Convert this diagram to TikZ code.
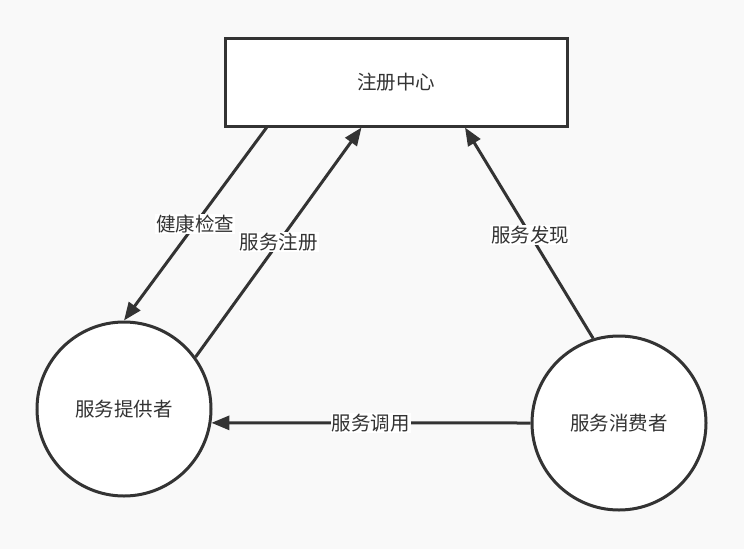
\documentclass[tikz,border=0pt]{standalone}
\usepackage{fontspec}
\newfontfamily\cjk{Noto Sans CJK SC}
\usetikzlibrary{positioning, arrows.meta, calc}
\definecolor{bgcol}{HTML}{F9F9F9}
\definecolor{inkcol}{HTML}{333333}
\begin{document}
\begin{tikzpicture}[
  x=1pt, y=-1pt,
  font=\cjk\fontsize{19.5}{22}\selectfont,
  box/.style={rectangle, draw=inkcol, line width=3pt, fill=white, text=inkcol,
    minimum width=342pt, minimum height=88pt},
  party/.style={circle, draw=inkcol, line width=3pt, fill=white, text=inkcol,
    minimum size=174pt, inner sep=0pt},
  arrow/.style={draw=inkcol, line width=3pt, -{Triangle[length=18pt, width=14pt]}},
  tag/.style={fill=white, text=inkcol, inner sep=1pt}
]
  \fill[bgcol] (0,0) rectangle (744,549);

  \node[box] (registry) at (396,82) {注册中心};
  \node[party] (provider) at (124,409) {服务提供者};
  \node[party] (consumer) at (619,423) {服务消费者};

  % registry bottom edge points
  \coordinate (checkfrom) at ($(registry.south west)!0.125!(registry.south east)$);
  \coordinate (regto) at ($(registry.south west)!0.40!(registry.south east)$);
  \coordinate (findto) at ($(registry.south west)!0.70!(registry.south east)$);

  \draw[arrow] (checkfrom) -- node[tag, pos=0.5] {健康检查} (provider.north);
  \draw[arrow] (provider.36) -- node[tag, pos=0.5] {服务注册} (regto);
  \draw[arrow] (consumer.107) -- node[tag, pos=0.49] {服务发现} (findto);
  \draw[arrow] (consumer.west) -- node[tag, pos=0.5] {服务调用} (provider.-9);
\end{tikzpicture}
\end{document}
